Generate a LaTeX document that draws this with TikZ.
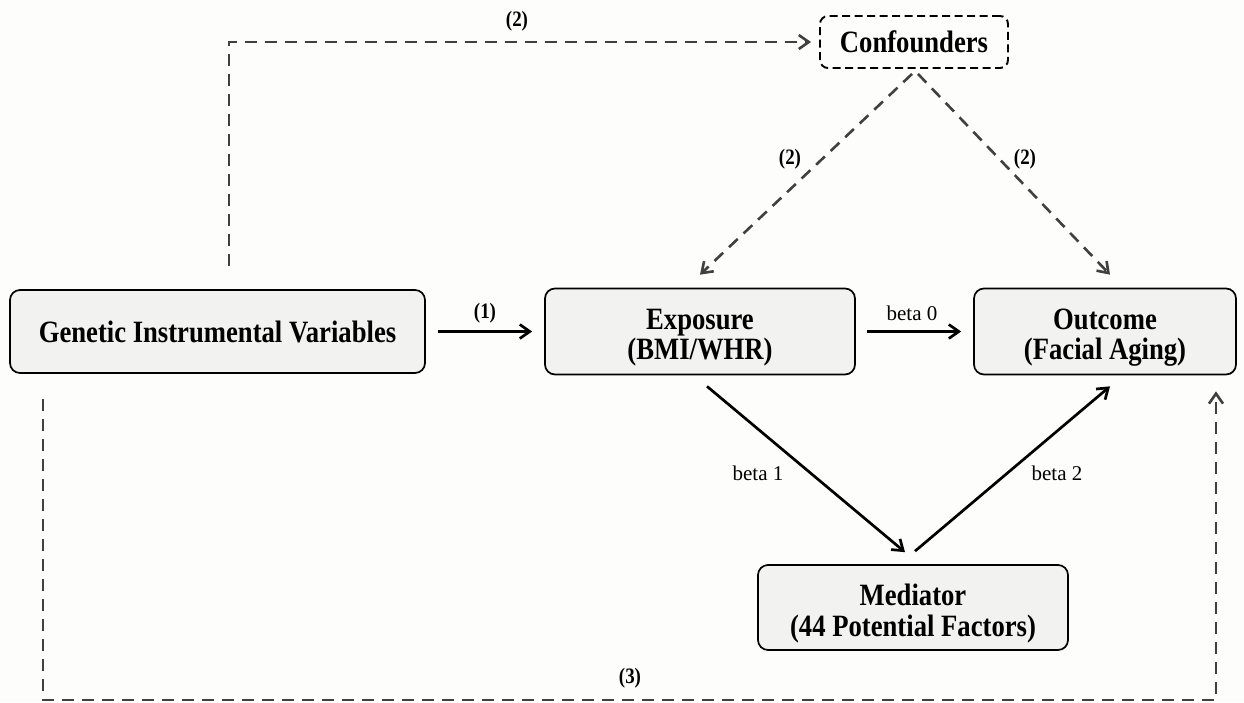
\documentclass[tikz,border=0pt]{standalone}
\usepackage{fontspec}
\setmainfont{Liberation Serif}
\newfontfamily\boxfont{Liberation Serif}[FakeStretch=0.86]
\usetikzlibrary{arrows.meta,calc}
\definecolor{bg}{HTML}{FDFDFB}
\definecolor{boxfill}{HTML}{F2F2F0}
\definecolor{dashgray}{HTML}{404040}
\newcommand\twolines[2]{\raisebox{-7pt}[\height][\depth]{\begin{tabular}{@{}c@{}}#1\\#2\end{tabular}}}
\begin{document}
\begin{tikzpicture}[x=1pt,y=-1pt,
  box/.style={draw=black, line width=1.7pt, fill=boxfill, rounded corners=10pt,
    align=center, inner sep=0pt, font=\boxfont\bfseries\fontsize{31}{30}\selectfont},
  confbox/.style={draw=black, line width=1.9pt, fill=bg, rounded corners=8pt,
    dash pattern=on 8pt off 4.5pt, inner sep=0pt,
    font=\boxfont\bfseries\fontsize{31}{30}\selectfont},
  tip/.style={-{Straight Barb[length=10pt,width=14pt]}},
  solidarrow/.style={draw=black, line width=2.7pt, tip},
  dasharrow/.style={draw=dashgray, line width=2.6pt, dash pattern=on 12pt off 8pt, tip},
  lab/.style={font=\boxfont\bfseries\fontsize{22}{22}\selectfont, inner sep=0pt},
  betalab/.style={font=\fontsize{21}{21}\selectfont, inner sep=0pt}]

\fill[bg] (0,0) rectangle (1244,702);
\useasboundingbox (0,0) rectangle (1244,702);

% nodes
\node[box, minimum width=415pt, minimum height=83pt] (gen) at (217.5,331.5) {Genetic Instrumental Variables};
\node[box, minimum width=310pt, minimum height=86pt] (exp) at (700,331.5) {\twolines{Exposure}{(BMI/WHR)}};
\node[box, minimum width=262pt, minimum height=86pt] (out) at (1105,331.5) {\twolines{Outcome}{(Facial Aging)}};
\node[box, minimum width=310pt, minimum height=85pt] (med) at (913,607.5) {\twolines{Mediator}{(44 Potential Factors)}};
\node[confbox, minimum width=188pt, minimum height=52pt] (conf) at (914,42) {Confounders};

% coordinates for free ends
\coordinate (capex) at ($(conf.south)+(-2,5)$);
\coordinate (capex2) at ($(conf.south)+(4,5)$);
\coordinate (expin) at ($(exp.north)+(0,-13)$);
\coordinate (outin) at ($(out.north)+(5,-13)$);
\coordinate (b1s) at ($(exp.south)+(7,11)$);
\coordinate (b1e) at ($(med.north)+(-8,-12)$);
\coordinate (b2s) at ($(med.north)+(2,-13)$);
\coordinate (b2e) at ($(out.south)+(5,11)$);
\coordinate (gtop) at ($(gen.north)+(11.5,-23)$);
\coordinate (gbot) at ($(gen.south)+(-174.5,25)$);
\coordinate (oend) at ($(out.south)+(111,16)$);
\coordinate (floor) at (0,700);

% solid connectors
\draw[solidarrow, shorten <=12pt, shorten >=12pt] (gen.east) -- (exp.west);
\draw[solidarrow, shorten <=11pt, shorten >=12pt] (exp.east) -- (out.west);
\draw[solidarrow] (b1s) -- (b1e);
\draw[solidarrow] (b2s) -- (b2e);

% dashed connectors
\draw[dasharrow] (capex) -- (expin);
\draw[dasharrow] (capex2) -- (outin);
\draw[dasharrow, shorten >=8pt] (gtop) |- (conf.west);
\draw[dasharrow] (gbot) -- (gbot |- floor) -- (oend |- floor) -- (oend);

% labels
\node[lab] (l1) at (485,313) {(1)};
\node[lab] (l2a) at (517,21) {(2)};
\node[lab] (l2b) at (790,159) {(2)};
\node[lab] (l2c) at (1025,159) {(2)};
\node[lab] (l3) at (630,678) {(3)};
\node[betalab] (lb0) at (912,313) {beta 0};
\node[betalab] (lb1) at (758,473) {beta 1};
\node[betalab] (lb2) at (1057,473) {beta 2};
\end{tikzpicture}
\end{document}
